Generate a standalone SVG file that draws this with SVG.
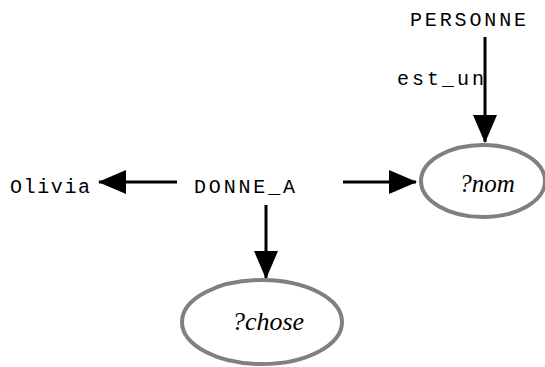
<svg xmlns="http://www.w3.org/2000/svg" width="545" height="367" viewBox="0 0 545 367">
<style>
.lbl{font-family:"Liberation Mono","Courier New",monospace;font-size:20px;fill:#000}
.var{font-family:"Liberation Serif","Times New Roman",serif;font-style:italic;fill:#000;text-anchor:middle}
.ell{fill:#fff;stroke:#808080;stroke-width:4}
.edge{stroke:#000;stroke-width:3;fill:none}
</style>
<defs>
<marker id="ah" markerUnits="userSpaceOnUse" markerWidth="28" markerHeight="26" refX="27" refY="12" orient="auto" viewBox="0 0 28 24">
<polygon points="0,0 28,12 0,24" fill="#000"/>
</marker>
</defs>
<g id="connectors">
<line class="edge" x1="485" y1="37" x2="485" y2="142" marker-end="url(#ah)"/>
<line class="edge" x1="177" y1="182" x2="99" y2="182" marker-end="url(#ah)"/>
<line class="edge" x1="343" y1="182" x2="416" y2="182" marker-end="url(#ah)"/>
<line class="edge" x1="266" y1="205" x2="266" y2="278" marker-end="url(#ah)"/>
<text class="lbl" x="397" y="85" textLength="87" lengthAdjust="spacing">est_un</text>
</g>
<g id="PERSONNE"><text class="lbl" x="410" y="26" textLength="116" lengthAdjust="spacing">PERSONNE</text></g>
<g id="DONNE_A"><text class="lbl" x="194" y="193" textLength="101" lengthAdjust="spacing">DONNE_A</text></g>
<g id="Olivia"><text class="lbl" x="10" y="193" textLength="80" lengthAdjust="spacing">Olivia</text></g>
<g id="nom"><ellipse class="ell" cx="483" cy="181" rx="62" ry="36"/><text class="var" x="487" y="192" font-size="25">?nom</text></g>
<g id="chose"><ellipse class="ell" cx="262" cy="322" rx="80" ry="42"/><text class="var" x="268" y="330" font-size="26">?chose</text></g>
</svg>
